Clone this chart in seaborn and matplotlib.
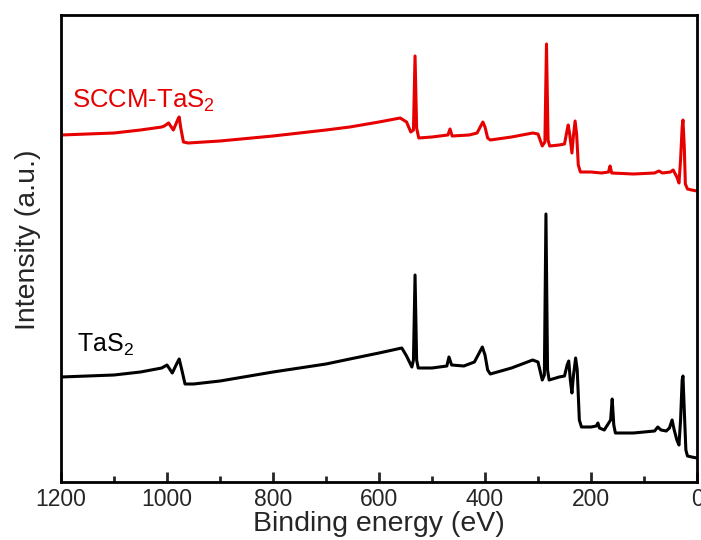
import pandas as pd
import numpy as np
import matplotlib
matplotlib.use("Agg")
import matplotlib.pyplot as plt
import seaborn as sns

#data (binding energy in eV, intensity in a.u.)

sccm_energy = [1200, 1150, 1100, 1050, 1010, 1005, 997, 988, 980, 977, 974, 969, 960, 900, 800,
               700, 655, 600, 560, 548, 540, 535, 532, 529, 525, 500, 470, 466, 462, 430,
               415, 408, 404, 400, 395, 390, 350, 310, 300, 292, 287, 284, 281, 278, 260,
               250, 245, 243, 240, 236, 233, 230, 227, 224, 220, 200, 180, 167, 164, 161,
               120, 80, 72, 65, 50, 45, 38, 34, 31, 28, 26.5, 24, 22, 18, 10, 0]
sccm_counts = [347, 348, 349, 352, 355, 356, 359, 352, 362, 365, 354, 340, 339, 341, 346,
               352, 355, 360, 364, 360, 350, 352, 426, 354, 344, 345, 347, 353, 346, 347,
               349, 356, 360, 355, 344, 342, 345, 349, 348, 336, 340, 438, 342, 336, 337,
               338, 352, 357, 347, 329, 347, 361, 347, 317, 310, 310, 309, 310, 316, 309,
               308, 309, 311, 309, 310, 312, 305, 299, 322, 355, 362, 335, 298, 293, 292, 291]

tas2_energy = [1200, 1150, 1100, 1050, 1010, 1000, 990, 981, 977, 972, 966, 950, 900, 800,
               700, 655, 600, 557, 548, 538, 535, 532, 529, 526, 500, 472, 468, 463, 440,
               420, 410, 405, 400, 395, 390, 350, 310, 300, 292, 288, 285, 282, 279, 260,
               250, 245, 242, 239, 236, 233, 229, 226, 222, 218, 200, 190, 187, 184, 175,
               163, 160, 157, 154, 120, 100, 80, 74, 68, 58, 52, 47, 43, 38, 34, 31,
               28, 26.5, 24, 21, 18, 10, 0]
tas2_counts = [105, 106, 107, 110, 114, 117, 109, 119, 123, 112, 98, 98, 101, 110,
               118, 123, 129, 134, 126, 115, 122, 207, 122, 114, 114, 116, 125, 117, 116,
               120, 130, 135, 127, 112, 108, 114, 122, 120, 102, 107, 268, 112, 102, 105,
               106, 117, 121, 102, 89, 107, 124, 112, 62, 55, 55, 56, 59, 54, 52,
               62, 83, 57, 49, 49, 50, 51, 55, 52, 51, 54, 62, 52, 42, 37, 62,
               102, 106, 72, 32, 26, 25, 24]

sample_labels = ["SCCM-TaS$_2$", "TaS$_2$"]
line_colors = ["#e60000", "black"]

df = pd.concat([
    pd.DataFrame({"energy": sccm_energy, "counts": sccm_counts, "sample": sample_labels[0]}),
    pd.DataFrame({"energy": tas2_energy, "counts": tas2_counts, "sample": sample_labels[1]}),
])

#plot

sns.set_style("ticks")
plt.rcParams["font.family"] = ["Liberation Sans", "DejaVu Sans"]
plt.rcParams["mathtext.fontset"] = "custom"
plt.rcParams["mathtext.rm"] = "Liberation Sans"

fig = plt.figure(figsize=(7.01, 5.40), dpi=100)
ax = fig.add_axes([61 / 701, 58 / 540, 636 / 701, 467 / 540])

sns.lineplot(data=df, x="energy", y="counts", hue="sample", palette=line_colors,
             linewidth=2.2, sort=False, estimator=None, legend=False, ax=ax)

ax.set_xlim(1200, 0)
ax.set_ylim(0, 467)
ax.set_xticks([1200, 1000, 800, 600, 400, 200, 0])
ax.set_xticks([1100, 900, 700, 500, 300, 100], minor=True)
ax.set_yticks([])
ax.tick_params(axis="x", which="major", direction="in", length=7, width=2, labelsize=16.5, pad=4)
ax.tick_params(axis="x", which="minor", direction="in", length=4, width=2)
for s in ax.spines.values():
    s.set_linewidth(2)
    s.set_color("black")

ax.set_xlabel("Binding energy (eV)", fontsize=20.5, labelpad=0)
ax.set_ylabel("Intensity (a.u.)", fontsize=20.5)
ax.yaxis.set_label_coords(-0.032, 0.518)

ax.text(1179, 374, sample_labels[0], color=line_colors[0], fontsize=18.5, va="baseline")
ax.text(1170, 130, sample_labels[1], color=line_colors[1], fontsize=18, va="baseline")

plt.savefig("out.png", dpi=100)
